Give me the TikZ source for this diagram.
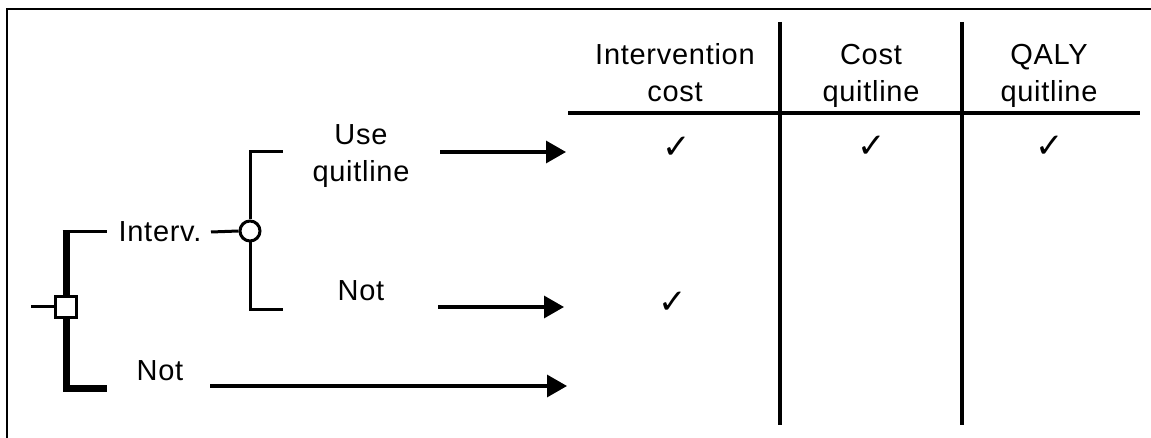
\documentclass[tikz,border=0pt]{standalone}
\usepackage{fontspec}
\setmainfont{Liberation Sans}[LetterSpace=2.5]
\newfontfamily\symfont{DejaVu Sans}
\usetikzlibrary{arrows.meta}
\tikzset{
  lbl/.style={inner sep=0pt, font=\fontsize{14.5}{18.5}\selectfont, align=center},
  tick/.style={inner sep=0pt, font=\symfont\fontsize{17}{17}\selectfont},
  thinline/.style={line width=1.5pt},
  thickline/.style={line width=3.5pt},
  gridline/.style={line width=1.7pt},
  outcome/.style={line width=1.6pt, -{Triangle[length=10pt,width=11pt]}},
  decnode/.style={draw, line width=1.2pt, rectangle, minimum size=10.5pt, inner sep=0pt, fill=white},
  chnode/.style={draw, line width=1.5pt, circle, minimum size=10pt, inner sep=0pt, fill=white},
}
\begin{document}
\begin{tikzpicture}[x=0.5pt,y=-0.5pt]
\useasboundingbox (0,0) rectangle (1151,438);
% frame
\draw[line width=1pt] (7,438) -- (7,9) -- (1151,9);

% decision node
\coordinate (in) at (31,307);
\node[decnode] (d) at (66,307) {};
\coordinate (dtop) at (66,232);
\coordinate (dtopend) at (107,232);
\coordinate (dbot) at (66,388);
\coordinate (dbotend) at (107,388);
\draw[thinline] (in) -- (d.west);
\draw[thickline] (d.north) -- ([yshift=-0.75pt]dtop);
\draw[thinline] ([xshift=-1.75pt]dtop) -- (dtopend);
\draw[thickline] (d.south) -- (dbot) -- (dbotend);

\node[lbl, anchor=base] (interv) at (160,242) {Interv.};
\node[lbl, anchor=base] (notb) at (160,380) {Not};

% chance node
\node[chnode] (c) at (250,231) {};
\coordinate (cin) at (211,232);
\draw[thinline] (cin) -- (c.west);
\coordinate (ctop) at (250,152);
\coordinate (ctopend) at (283,152);
\coordinate (cbot) at (250,310);
\coordinate (cbotend) at (283,310);
\draw[thinline] (c.north) -- (ctop) -- (ctopend);
\draw[thinline] (c.south) -- (cbot) -- (cbotend);

\node[lbl, anchor=base] (use) at (361,182) {Use\\quitline};
\node[lbl, anchor=base] (nota) at (361,300) {Not};

% outcome arrows
\coordinate (a1s) at (440,152); \coordinate (a1e) at (566,152);
\coordinate (a2s) at (438,307); \coordinate (a2e) at (564,307);
\coordinate (a3s) at (210,386); \coordinate (a3e) at (567,386);
\draw[outcome] (a1s) -- (a1e);
\draw[outcome] (a2s) -- (a2e);
\draw[outcome] (a3s) -- (a3e);

% table
\coordinate (v1t) at (780,22); \coordinate (v1b) at (780,425);
\coordinate (v2t) at (962,22); \coordinate (v2b) at (962,425);
\coordinate (hl) at (568,113); \coordinate (hr) at (1140,113);
\draw[gridline] (v1t) -- (v1b);
\draw[gridline] (v2t) -- (v2b);
\draw[gridline] (hl) -- (hr);

\node[lbl, anchor=base] (h1) at (675,102) {Intervention\\cost};
\node[lbl, anchor=base] (h2) at (871,102) {Cost\\quitline};
\node[lbl, anchor=base] (h3) at (1049,102) {QALY\\quitline};

\node[tick] (t1) at (677,148) {✓};
\node[tick] (t2) at (872,147) {✓};
\node[tick] (t3) at (1050,147) {✓};
\node[tick] (t4) at (673,303) {✓};
\end{tikzpicture}
\end{document}
